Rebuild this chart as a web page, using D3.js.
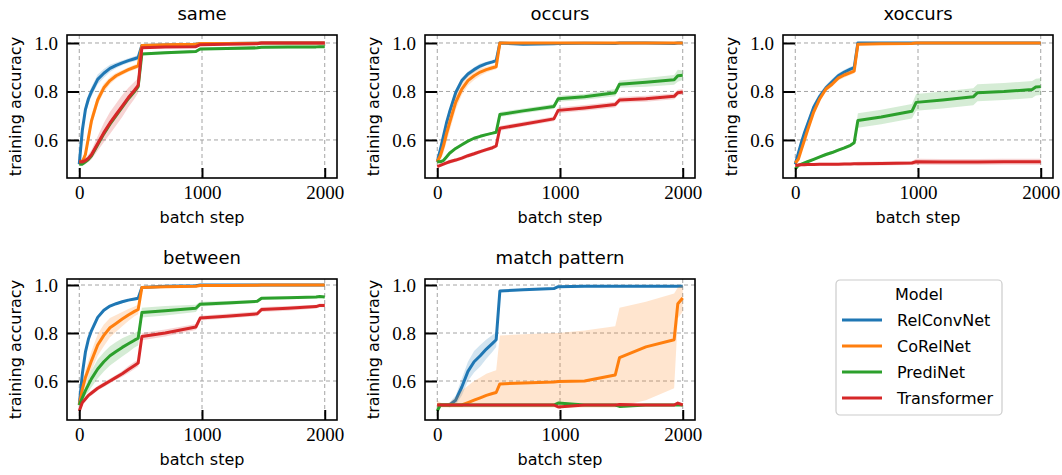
<!DOCTYPE html>
<html>
<head>
<meta charset="utf-8">
<script src="https://cdn.jsdelivr.net/npm/d3@7"></script>
<style>
  body { margin: 0; background: #fff; }
  svg { display: block; }
  .tick text { font-family: "Liberation Serif", "DejaVu Serif", serif; }
</style>
</head>
<body>
<div id="chart"></div>
<script>
// ---- data ----
const models = ['RelConvNet', 'CoRelNet', 'PrediNet', 'Transformer'];
const colors = ['#1f77b4', '#ff7f0e', '#2ca02c', '#d62728'];
const steps = [0, 25, 50, 75, 100, 150, 200, 250, 300, 350, 400, 450, 480, 510, 700, 950, 985, 1200, 1450, 1485, 1700, 1930, 1960, 2000];
const xTicks = [0, 1000, 2000];
const yTicks = [0.6, 0.8, 1.0];

const sameMean = {
  RelConvNet:  [0.50, 0.64, 0.725, 0.77, 0.80, 0.85, 0.875, 0.895, 0.908, 0.918, 0.927, 0.935, 0.94, 0.99, 0.992, 0.994, 0.998, 0.998, 0.999, 1.0, 1.0, 1.0, 1.0, 1.0],
  CoRelNet:    [0.51, 0.51, 0.54, 0.61, 0.68, 0.765, 0.815, 0.845, 0.865, 0.878, 0.89, 0.90, 0.906, 0.99, 0.993, 0.995, 0.998, 0.998, 0.999, 1.0, 1.0, 1.0, 1.0, 1.0],
  PrediNet:    [0.50, 0.50, 0.51, 0.52, 0.535, 0.58, 0.625, 0.665, 0.70, 0.735, 0.77, 0.80, 0.82, 0.955, 0.96, 0.965, 0.975, 0.977, 0.98, 0.982, 0.983, 0.984, 0.985, 0.985],
  Transformer: [0.51, 0.51, 0.515, 0.525, 0.54, 0.585, 0.63, 0.67, 0.705, 0.74, 0.775, 0.805, 0.825, 0.98, 0.983, 0.985, 0.993, 0.995, 0.997, 1.0, 1.0, 1.0, 1.0, 1.0]
};
const sameSpread = {
  RelConvNet:  [0.005, 0.02, 0.02, 0.02, 0.02, 0.02, 0.018, 0.015, 0.012, 0.01, 0.01, 0.01, 0.01, 0.003, 0.002, 0.002, 0.002, 0.002, 0.002, 0.001, 0.001, 0.001, 0.001, 0.001],
  CoRelNet:    [0.005, 0.01, 0.02, 0.025, 0.025, 0.02, 0.018, 0.015, 0.012, 0.01, 0.01, 0.01, 0.01, 0.003, 0.002, 0.002, 0.002, 0.002, 0.002, 0.001, 0.001, 0.001, 0.001, 0.001],
  PrediNet:    [0.005, 0.005, 0.01, 0.01, 0.01, 0.01, 0.01, 0.01, 0.01, 0.01, 0.01, 0.01, 0.01, 0.006, 0.006, 0.006, 0.006, 0.006, 0.006, 0.006, 0.006, 0.006, 0.006, 0.006],
  Transformer: [0.01, 0.01, 0.01, 0.015, 0.02, 0.03, 0.04, 0.045, 0.045, 0.045, 0.04, 0.035, 0.03, 0.005, 0.004, 0.004, 0.003, 0.003, 0.002, 0.001, 0.001, 0.001, 0.001, 0.001]
};

const occursMean = {
  RelConvNet:  [0.51, 0.56, 0.615, 0.67, 0.715, 0.795, 0.845, 0.872, 0.89, 0.905, 0.915, 0.922, 0.927, 1.0, 0.995, 0.997, 0.998, 0.999, 0.998, 1.0, 1.0, 0.998, 1.0, 1.0],
  CoRelNet:    [0.51, 0.535, 0.575, 0.625, 0.67, 0.755, 0.81, 0.845, 0.865, 0.88, 0.89, 0.898, 0.902, 1.0, 1.0, 1.0, 1.0, 1.0, 1.0, 1.0, 1.0, 1.0, 1.0, 1.0],
  PrediNet:    [0.51, 0.51, 0.515, 0.53, 0.545, 0.565, 0.58, 0.595, 0.607, 0.615, 0.622, 0.628, 0.632, 0.705, 0.72, 0.738, 0.77, 0.778, 0.795, 0.83, 0.838, 0.848, 0.865, 0.867],
  Transformer: [0.49, 0.495, 0.50, 0.505, 0.51, 0.517, 0.525, 0.535, 0.543, 0.552, 0.56, 0.568, 0.575, 0.648, 0.665, 0.687, 0.722, 0.732, 0.746, 0.765, 0.77, 0.78, 0.795, 0.798]
};
const occursSpread = {
  RelConvNet:  [0.005, 0.015, 0.015, 0.015, 0.015, 0.015, 0.012, 0.01, 0.01, 0.01, 0.008, 0.008, 0.008, 0.003, 0.005, 0.003, 0.003, 0.002, 0.003, 0.002, 0.002, 0.003, 0.002, 0.002],
  CoRelNet:    [0.01, 0.02, 0.03, 0.035, 0.035, 0.03, 0.025, 0.02, 0.018, 0.015, 0.012, 0.01, 0.01, 0.002, 0.002, 0.002, 0.002, 0.002, 0.002, 0.002, 0.002, 0.002, 0.002, 0.002],
  PrediNet:    [0.005, 0.005, 0.005, 0.005, 0.005, 0.005, 0.005, 0.005, 0.005, 0.005, 0.005, 0.005, 0.006, 0.01, 0.01, 0.01, 0.012, 0.012, 0.015, 0.015, 0.018, 0.02, 0.025, 0.02],
  Transformer: [0.005, 0.006, 0.006, 0.007, 0.008, 0.008, 0.008, 0.008, 0.008, 0.008, 0.008, 0.008, 0.008, 0.01, 0.01, 0.01, 0.012, 0.012, 0.012, 0.012, 0.012, 0.012, 0.012, 0.012]
};

const xoccursMean = {
  RelConvNet:  [0.50, 0.545, 0.59, 0.63, 0.665, 0.735, 0.78, 0.815, 0.84, 0.865, 0.88, 0.892, 0.898, 1.0, 1.0, 1.0, 1.0, 1.0, 1.0, 1.0, 1.0, 1.0, 1.0, 1.0],
  CoRelNet:    [0.505, 0.52, 0.56, 0.60, 0.64, 0.715, 0.77, 0.81, 0.83, 0.855, 0.868, 0.878, 0.884, 0.995, 0.997, 0.998, 1.0, 1.0, 1.0, 1.0, 1.0, 1.0, 1.0, 1.0],
  PrediNet:    [0.48, 0.495, 0.50, 0.505, 0.51, 0.52, 0.53, 0.54, 0.548, 0.558, 0.567, 0.578, 0.588, 0.68, 0.695, 0.718, 0.755, 0.765, 0.778, 0.795, 0.80, 0.808, 0.818, 0.82],
  Transformer: [0.495, 0.497, 0.498, 0.498, 0.499, 0.499, 0.50, 0.50, 0.50, 0.50, 0.501, 0.501, 0.502, 0.502, 0.503, 0.505, 0.51, 0.509, 0.509, 0.509, 0.51, 0.51, 0.51, 0.51]
};
const xoccursSpread = {
  RelConvNet:  [0.005, 0.015, 0.015, 0.015, 0.015, 0.015, 0.015, 0.012, 0.012, 0.01, 0.01, 0.01, 0.01, 0.002, 0.002, 0.002, 0.002, 0.002, 0.002, 0.002, 0.002, 0.002, 0.002, 0.002],
  CoRelNet:    [0.005, 0.01, 0.01, 0.012, 0.012, 0.012, 0.01, 0.01, 0.01, 0.01, 0.01, 0.01, 0.01, 0.003, 0.002, 0.002, 0.002, 0.002, 0.002, 0.002, 0.002, 0.002, 0.002, 0.002],
  PrediNet:    [0.005, 0.005, 0.005, 0.005, 0.005, 0.005, 0.005, 0.006, 0.006, 0.006, 0.006, 0.006, 0.006, 0.03, 0.03, 0.03, 0.035, 0.035, 0.035, 0.035, 0.035, 0.035, 0.035, 0.035],
  Transformer: [0.006, 0.006, 0.006, 0.006, 0.006, 0.006, 0.006, 0.006, 0.006, 0.006, 0.006, 0.006, 0.006, 0.008, 0.008, 0.008, 0.012, 0.012, 0.012, 0.012, 0.012, 0.012, 0.012, 0.012]
};

const betweenMean = {
  RelConvNet:  [0.50, 0.63, 0.72, 0.775, 0.81, 0.865, 0.895, 0.912, 0.922, 0.93, 0.937, 0.942, 0.945, 0.99, 0.995, 0.997, 1.0, 1.0, 1.0, 1.0, 1.0, 1.0, 1.0, 1.0],
  CoRelNet:    [0.50, 0.565, 0.615, 0.65, 0.685, 0.75, 0.79, 0.822, 0.84, 0.858, 0.875, 0.89, 0.898, 0.99, 0.993, 0.995, 0.998, 0.998, 0.999, 1.0, 1.0, 1.0, 1.0, 1.0],
  PrediNet:    [0.50, 0.53, 0.56, 0.585, 0.61, 0.65, 0.68, 0.705, 0.723, 0.74, 0.755, 0.77, 0.778, 0.885, 0.893, 0.903, 0.92, 0.925, 0.932, 0.945, 0.947, 0.95, 0.952, 0.95],
  Transformer: [0.475, 0.51, 0.525, 0.54, 0.55, 0.57, 0.585, 0.60, 0.615, 0.63, 0.648, 0.665, 0.675, 0.785, 0.80, 0.825, 0.862, 0.87, 0.88, 0.898, 0.903, 0.91, 0.915, 0.915]
};
const betweenSpread = {
  RelConvNet:  [0.005, 0.006, 0.006, 0.006, 0.006, 0.006, 0.005, 0.005, 0.005, 0.005, 0.005, 0.005, 0.005, 0.003, 0.002, 0.002, 0.002, 0.002, 0.002, 0.002, 0.002, 0.002, 0.002, 0.002],
  CoRelNet:    [0.005, 0.02, 0.03, 0.035, 0.04, 0.045, 0.045, 0.04, 0.035, 0.03, 0.025, 0.02, 0.02, 0.003, 0.002, 0.002, 0.002, 0.002, 0.002, 0.002, 0.002, 0.002, 0.002, 0.002],
  PrediNet:    [0.005, 0.01, 0.02, 0.03, 0.035, 0.04, 0.04, 0.04, 0.04, 0.038, 0.035, 0.03, 0.03, 0.02, 0.02, 0.015, 0.01, 0.008, 0.006, 0.005, 0.005, 0.005, 0.005, 0.005],
  Transformer: [0.01, 0.01, 0.01, 0.01, 0.01, 0.01, 0.01, 0.01, 0.01, 0.012, 0.015, 0.015, 0.015, 0.015, 0.015, 0.012, 0.01, 0.01, 0.01, 0.01, 0.01, 0.008, 0.008, 0.008]
};

const matchMean = {
  RelConvNet:  [0.50, 0.50, 0.50, 0.50, 0.50, 0.52, 0.575, 0.64, 0.68, 0.705, 0.733, 0.757, 0.772, 0.975, 0.98, 0.985, 0.993, 0.995, 0.995, 0.995, 0.995, 0.995, 0.995, 0.995],
  CoRelNet:    [0.50, 0.50, 0.50, 0.50, 0.50, 0.50, 0.50, 0.51, 0.52, 0.53, 0.54, 0.548, 0.552, 0.588, 0.592, 0.596, 0.598, 0.60, 0.625, 0.697, 0.742, 0.772, 0.922, 0.946],
  PrediNet:    [0.475, 0.50, 0.50, 0.50, 0.50, 0.50, 0.50, 0.50, 0.50, 0.50, 0.50, 0.50, 0.50, 0.50, 0.50, 0.50, 0.508, 0.50, 0.50, 0.494, 0.50, 0.50, 0.50, 0.50],
  Transformer: [0.50, 0.50, 0.50, 0.50, 0.50, 0.50, 0.50, 0.50, 0.50, 0.50, 0.50, 0.50, 0.50, 0.50, 0.50, 0.50, 0.492, 0.50, 0.50, 0.502, 0.50, 0.50, 0.508, 0.50]
};
const matchSpread = {
  RelConvNet:  [0.005, 0.005, 0.005, 0.005, 0.01, 0.02, 0.035, 0.04, 0.045, 0.045, 0.04, 0.035, 0.03, 0.005, 0.004, 0.004, 0.003, 0.003, 0.003, 0.003, 0.003, 0.003, 0.003, 0.003],
  CoRelNet:    null,
  PrediNet:    [0.005, 0.003, 0.003, 0.003, 0.003, 0.003, 0.003, 0.003, 0.003, 0.003, 0.003, 0.003, 0.003, 0.003, 0.003, 0.003, 0.004, 0.003, 0.003, 0.004, 0.003, 0.003, 0.003, 0.003],
  Transformer: [0.005, 0.003, 0.003, 0.003, 0.003, 0.003, 0.003, 0.003, 0.003, 0.003, 0.003, 0.003, 0.003, 0.003, 0.003, 0.003, 0.004, 0.003, 0.003, 0.003, 0.003, 0.003, 0.004, 0.003]
};
// CoRelNet on match pattern has a very lopsided band
const matchCoRelLo = [0.48, 0.49, 0.49, 0.49, 0.49, 0.49, 0.49, 0.49, 0.49, 0.49, 0.49, 0.49, 0.49, 0.49, 0.49, 0.49, 0.49, 0.49, 0.49, 0.495, 0.52, 0.57, 0.86, 0.89];
const matchCoRelHi = [0.52, 0.51, 0.505, 0.505, 0.51, 0.53, 0.56, 0.58, 0.60, 0.615, 0.63, 0.64, 0.645, 0.79, 0.795, 0.80, 0.80, 0.81, 0.828, 0.905, 0.93, 0.965, 0.99, 1.0];

const panels = [
  { title: 'same', mean: sameMean, spread: sameSpread, col: 0, row: 0 },
  { title: 'occurs', mean: occursMean, spread: occursSpread, col: 1, row: 0 },
  { title: 'xoccurs', mean: xoccursMean, spread: xoccursSpread, col: 2, row: 0 },
  { title: 'between', mean: betweenMean, spread: betweenSpread, col: 0, row: 1 },
  { title: 'match pattern', mean: matchMean, spread: matchSpread, col: 1, row: 1,
    bands: { CoRelNet: [matchCoRelLo, matchCoRelHi] } }
];

// ---- layout ----
const W = 1062, H = 475;
const colLeft = [67, 425, 783];
const pw = 270;
const rowTop = [35, 279];
const rowH = [143, 141];
const rowDomain = [[0.443, 1.033], [0.4375, 1.025]];

const sansFont = "'DejaVu Sans', sans-serif";
const serifFont = "'Liberation Serif', 'DejaVu Serif', serif";

const svg = d3.select('#chart').append('svg')
  .attr('width', W).attr('height', H);

panels.forEach((p, pi) => {
  const x0 = colLeft[p.col], y0 = rowTop[p.row], ph = rowH[p.row];
  const x = d3.scaleLinear().domain([-100, 2100]).range([0, pw]);
  const y = d3.scaleLinear().domain(rowDomain[p.row]).range([ph, 0]);
  const g = svg.append('g').attr('transform', `translate(${x0},${y0})`);

  g.append('clipPath').attr('id', `clip${pi}`)
    .append('rect').attr('width', pw).attr('height', ph);

  // grid
  g.append('g').selectAll('line.gx').data(xTicks).join('line')
    .attr('x1', d => x(d)).attr('x2', d => x(d))
    .attr('y1', 0).attr('y2', ph)
    .attr('stroke', '#9a9a9a').attr('stroke-width', 0.9).attr('stroke-dasharray', '4,3');
  g.append('g').selectAll('line.gy').data(yTicks).join('line')
    .attr('x1', 0).attr('x2', pw)
    .attr('y1', d => y(d)).attr('y2', d => y(d))
    .attr('stroke', '#9a9a9a').attr('stroke-width', 0.9).attr('stroke-dasharray', '4,3');

  const plot = g.append('g').attr('clip-path', `url(#clip${pi})`);
  const area = d3.area().x(d => x(d.s)).y0(d => y(d.lo)).y1(d => y(d.hi));
  const line = d3.line().x(d => x(d.s)).y(d => y(d.m));

  models.forEach((m, mi) => {
    const mean = p.mean[m];
    let lo, hi;
    if (p.bands && p.bands[m]) {
      [lo, hi] = p.bands[m];
    } else {
      lo = mean.map((v, i) => v - p.spread[m][i]);
      hi = mean.map((v, i) => v + p.spread[m][i]);
    }
    const pts = steps.map((s, i) => ({ s, m: mean[i], lo: lo[i], hi: hi[i] }));
    plot.append('path').datum(pts)
      .attr('d', area)
      .attr('fill', colors[mi]).attr('fill-opacity', 0.2).attr('stroke', 'none');
    plot.append('path').datum(pts)
      .attr('d', line)
      .attr('fill', 'none').attr('stroke', colors[mi])
      .attr('stroke-width', 3).attr('stroke-linejoin', 'round').attr('stroke-linecap', 'butt');
  });

  // axes (inward ticks)
  const ya = g.append('g')
    .call(d3.axisLeft(y).tickValues(yTicks).tickSize(-12).tickPadding(9).tickFormat(d3.format('.1f')));
  const xa = g.append('g').attr('transform', `translate(0,${ph})`)
    .call(d3.axisBottom(x).tickValues(xTicks).tickSize(-10).tickPadding(8).tickFormat(d3.format('d')));
  [ya, xa].forEach(a => {
    a.attr('font-family', serifFont).attr('font-size', 19);
    a.select('.domain').remove();
    a.selectAll('.tick line').attr('stroke', '#000').attr('stroke-width', 2);
    a.selectAll('.tick text').attr('fill', '#000')
      .style('font-family', serifFont).style('font-size', '19px');
  });

  // frame
  g.append('rect').attr('width', pw).attr('height', ph)
    .attr('fill', 'none').attr('stroke', '#000').attr('stroke-width', 1.6);

  // texts
  g.append('text').attr('x', pw / 2).attr('y', -15)
    .attr('text-anchor', 'middle').style('font-family', sansFont).style('font-size', '18px')
    .text(p.title);
  g.append('text').attr('x', pw / 2).attr('y', ph + 45)
    .attr('text-anchor', 'middle').style('font-family', sansFont).style('font-size', '16px')
    .text('batch step');
  g.append('text')
    .attr('transform', `translate(${-46},${ph / 2}) rotate(-90)`)
    .attr('text-anchor', 'middle').style('font-family', sansFont).style('font-size', '16px')
    .text('training accuracy');
});

// ---- legend ----
const lg = svg.append('g').attr('transform', 'translate(836,280)');
lg.append('rect').attr('width', 166).attr('height', 135).attr('rx', 4)
  .attr('fill', '#fff').attr('stroke', '#cccccc').attr('stroke-width', 1.2);
lg.append('text').attr('x', 83).attr('y', 20).attr('text-anchor', 'middle')
  .style('font-family', sansFont).style('font-size', '16px').text('Model');
const items = lg.selectAll('g.item').data(models).join('g')
  .attr('transform', (d, i) => `translate(0,${40 + i * 26})`);
items.append('line').attr('x1', 6).attr('x2', 46).attr('y1', 0).attr('y2', 0)
  .attr('stroke', (d, i) => colors[i]).attr('stroke-width', 3);
items.append('text').attr('x', 61).attr('y', 6)
  .style('font-family', sansFont).style('font-size', '16px').text(d => d);
</script>
</body>
</html>
